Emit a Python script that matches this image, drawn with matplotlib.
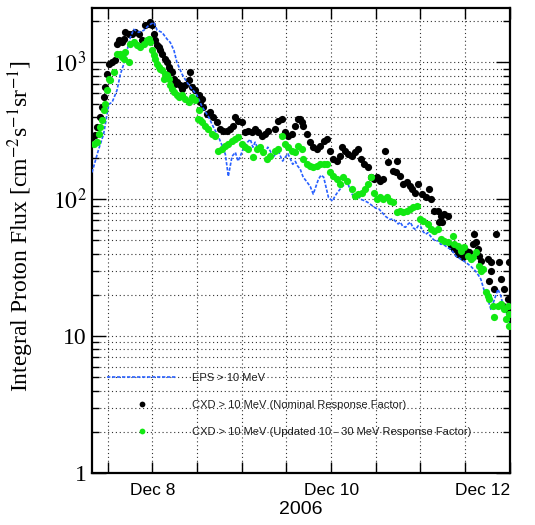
import numpy as np
import matplotlib.pyplot as plt
from matplotlib.ticker import FixedLocator, LogLocator, NullFormatter

plt.rcParams['mathtext.fontset'] = 'stix'

# hours since 2006-12-07 00:00 UT, flux in protons / (cm^2 s sr)
eps_hours = [7.8, 9.5, 10.9, 12.3, 13.2, 14.5, 15.4, 16.3, 17.2, 18.1, 19.0, 20.3,
             21.7, 23.0, 24.4, 25.3, 26.6, 28.0, 28.8, 29.8, 30.6, 32.0, 33.3, 34.7,
             36.0, 37.3, 39.0, 40.3, 41.7, 42.8, 43.6, 44.4, 44.9, 45.4, 46.3, 47.0,
             47.6, 48.3, 48.9, 49.6, 50.3, 51.0, 51.6, 52.3, 53.0, 53.6, 54.3, 55.0,
             55.7, 56.3, 57.0, 57.7, 58.4, 59.0, 59.7, 60.4, 61.1, 61.7, 62.4, 63.0,
             63.7, 64.5, 65.4, 66.4, 67.2, 68.6, 69.3, 70.0, 71.3, 72.4, 73.0, 73.7,
             75.0, 75.7, 76.4, 77.2, 78.1, 79.0, 79.9, 80.8, 81.8, 82.5, 83.2, 84.0,
             84.8, 85.7, 86.6, 87.2, 87.9, 88.6, 89.3, 90.0, 90.6, 91.3, 92.0, 92.7,
             93.3, 94.0, 94.7, 95.4, 96.0, 96.7, 97.4, 98.0, 98.7, 99.4, 100.1, 100.8,
             101.4, 102.1, 102.8, 103.5, 104.1, 104.8, 105.5, 106.2, 106.8, 107.5,
             108.1, 108.8, 109.5, 110.2, 110.8, 111.5, 112.2, 113.0, 114.1, 114.9,
             115.7, 116.8, 117.6, 118.4, 119.5, 120.0]
eps_flux = [157, 228, 298, 494, 511, 625, 817, 967, 1224, 1522, 1741, 1656,
            1713, 1862, 1959, 1713, 1656, 1472, 1400, 1224, 1000, 817, 714, 636,
            574, 477, 404, 341, 288, 244, 213, 147, 174, 206, 220, 190,
            206, 230, 244, 262, 274, 240, 261, 235, 244, 210, 220, 240,
            224, 200, 213, 230, 206, 190, 203, 215, 196, 180, 189, 175,
            166, 145, 135, 124, 109, 140, 150, 145, 103, 97, 105, 112,
            124, 128, 133, 115, 103, 108, 100, 98, 95, 92, 89, 86,
            85, 80, 75, 73, 71, 72, 69, 66, 68, 63, 62.5, 66,
            68, 62, 60, 64, 63.5, 58, 55.5, 57, 53.7, 51, 49.3, 50,
            46.9, 47, 45.4, 44, 43.2, 41, 38.4, 37.5, 36.5, 35.5,
            34.7, 33.5, 32.4, 31, 29.8, 28, 26.1, 22.0, 18.6, 15.7,
            18.0, 22.0, 19.6, 15.7, 14.0, 12.0]

nominal_hours = [7.8, 8.6, 9.1, 9.9, 10.4, 11.0, 11.3, 11.8, 12.4, 13.2, 14.0, 14.5,
                 15.1, 15.8, 16.4, 16.6, 17.7, 18.5, 19.3, 20.4, 21.2, 22.0, 23.1, 23.4,
                 23.9, 24.5, 24.7, 25.3, 25.8, 26.1, 26.6, 27.4, 28.0, 28.5, 28.8, 29.3,
                 29.8, 30.1, 30.6, 31.5, 32.0, 32.8, 33.9, 34.1, 34.7, 35.5, 36.6, 36.8,
                 37.4, 37.6, 38.7, 39.5, 40.3, 41.4, 42.2, 43.0, 44.1, 44.9, 45.7, 46.3,
                 47.1, 48.1, 48.9, 49.8, 50.8, 51.6, 52.4, 53.5, 54.3, 55.1, 57.0, 57.8,
                 58.9, 59.7, 60.5, 61.6, 62.4, 63.2, 63.7, 64.2, 64.5, 65.6, 66.4, 67.2,
                 68.3, 69.1, 70.0, 71.0, 71.8, 72.6, 73.7, 74.5, 75.0, 75.8, 76.6, 77.7,
                 78.5, 79.3, 79.9, 80.7, 81.8, 82.6, 83.4, 84.4, 85.2, 86.0, 86.6, 87.4,
                 88.5, 89.3, 89.8, 90.6, 91.4, 92.5, 93.3, 93.8, 94.6, 95.4, 96.5, 97.4,
                 98.2, 98.7, 99.5, 100.6, 100.9, 101.4, 101.9, 102.2, 103.3, 104.1, 104.9,
                 106.2, 107.3, 108.1, 108.9, 110.0, 110.3, 110.8, 111.4, 111.6, 112.2,
                 114.1, 114.3, 114.9, 114.9, 115.7, 116.2, 117.0, 117.6, 118.1, 118.4,
                 119.5, 119.8, 119.8]
nominal_flux = [284, 293, 336, 397, 470, 556, 658, 817, 967, 1000, 1035, 1352,
                1446, 1400, 1472, 1656, 1600, 1600, 1656, 1600, 1446, 1862, 1892, 1959,
                1862, 1600, 1446, 1330, 1286, 1224, 1143, 1052, 1000, 918, 874, 845,
                752, 691, 714, 680, 636, 680, 739, 845, 658, 625, 574, 511,
                537, 470, 417, 432, 397, 365, 324, 313, 313, 324, 341, 397,
                371, 365, 308, 313, 308, 324, 308, 288, 298, 313, 324, 371,
                384, 308, 288, 298, 341, 384, 384, 365, 341, 298, 261, 240,
                232, 244, 265, 274, 224, 196, 189, 206, 240, 224, 213, 206,
                220, 232, 196, 180, 171, 145, 140, 145, 135, 140, 224, 186,
                160, 157, 189, 147, 129, 133, 124, 118, 112, 129, 109, 103,
                118, 100, 81.7, 81.7, 67.9, 75.2, 67.9, 78, 75.2, 45.4, 43.2,
                39.6, 37.7, 41.7, 41.0, 46.9, 55.5, 48.5, 43.2, 38.4, 35.2,
                36.5, 25.2, 34.7, 29.8, 22.0, 55.5, 34.7, 26.1, 16.6, 22.0,
                18.6, 34.7, 15.0]

updated_hours = [8.3, 9.1, 9.6, 9.9, 10.4, 11.0, 11.3, 11.8, 12.4, 12.6, 13.7, 14.5,
                 15.3, 15.8, 16.4, 16.6, 17.7, 18.0, 19.1, 19.9, 20.7, 21.7, 22.6, 23.1,
                 23.4, 23.9, 24.5, 24.7, 25.3, 25.8, 26.1, 26.6, 27.1, 27.4, 28.0, 28.5,
                 28.8, 29.3, 29.8, 30.6, 31.2, 32.0, 32.8, 33.9, 34.7, 35.5, 36.3, 36.6,
                 36.8, 37.4, 38.2, 39.0, 40.1, 40.9, 41.7, 42.8, 43.6, 44.4, 45.4, 46.3,
                 47.1, 48.1, 48.9, 49.8, 51.1, 52.2, 52.9, 53.8, 54.9, 55.7, 57.0, 57.8,
                 58.9, 59.7, 60.5, 61.6, 62.4, 63.2, 64.2, 64.5, 65.6, 66.4, 67.2, 68.3,
                 69.1, 70.0, 71.0, 71.8, 72.6, 73.7, 74.5, 75.3, 76.4, 77.7, 78.5, 79.3,
                 80.4, 81.2, 82.0, 82.6, 83.4, 84.4, 85.2, 86.0, 87.1, 87.9, 88.7, 89.8,
                 90.6, 91.4, 92.5, 93.3, 94.1, 95.2, 96.0, 96.8, 97.9, 98.7, 99.5, 100.6,
                 101.4, 102.2, 103.3, 104.6, 104.9, 106.0, 106.8, 107.6, 108.7, 109.5,
                 110.0, 110.8, 111.6, 112.2, 112.7, 113.5, 114.1, 114.3, 115.4, 115.7,
                 116.8, 117.6, 118.4, 118.9, 119.5, 119.8, 119.9]
updated_flux = [252, 261, 298, 336, 378, 447, 494, 625, 752, 739, 845, 1143,
                1143, 1087, 1052, 1183, 1000, 1352, 1400, 1330, 1286, 1352, 1446, 1472,
                1400, 1224, 1125, 1052, 967, 918, 888, 874, 752, 817, 804, 752,
                680, 636, 604, 574, 556, 574, 537, 511, 556, 528, 384, 447,
                378, 365, 341, 324, 298, 288, 224, 232, 244, 252, 265, 274,
                284, 252, 240, 232, 203, 232, 240, 220, 196, 206, 224, 232,
                288, 252, 240, 224, 220, 244, 232, 196, 180, 174, 171, 174,
                180, 180, 180, 157, 147, 140, 129, 145, 135, 118, 105, 109,
                112, 118, 129, 145, 112, 100, 103, 100, 103, 97, 95, 80.4,
                81.7, 80.4, 81.7, 84.6, 87.5, 89, 71.5, 69.1, 65.7, 60.4, 58.4, 60.4,
                51.1, 49.3, 48.5, 53.7, 46.9, 45.4, 41.7, 44.7, 38.4, 36.5,
                37.7, 41.0, 32.4, 29.8, 30.8, 20.9, 19.6, 18.6, 16.6, 13.8,
                16.6, 17.1, 15.7, 13.3, 16.6, 14.5, 11.8]

start = np.datetime64('2006-12-07T00:00')


def to_time(hours):
    minutes = np.round(np.asarray(hours) * 60).astype(int)
    return start + minutes.astype('timedelta64[m]')


fig = plt.figure(figsize=(5.35, 5.25), dpi=100)
ax = fig.add_axes([0.172, 0.099, 0.781, 0.886])

ax.plot(to_time(nominal_hours), nominal_flux, 'o', color='black', ms=5.2,
        mec='none', zorder=2, label='CXD > 10 MeV (Nominal Response Factor)')
ax.plot(to_time(eps_hours), eps_flux, linestyle=(0, (2, 1)), color='#2860ff',
        lw=1.2, zorder=3, label='EPS > 10 MeV')
ax.plot(to_time(updated_hours), updated_flux, 'o', color='#12e812', ms=5.2,
        mec='none', zorder=4,
        label='CXD > 10 MeV (Updated 10 - 30 MeV Response Factor)')

ax.set_yscale('log')
ax.set_ylim(1, 2500)
ax.set_xlim(to_time(7.8), to_time(120))

# ticks every 12 h, labels on Dec 8, 10 and 12
tick_hours = np.arange(12, 121, 12)
tick_labels = ['Dec %d' % (h // 24 + 7) if (h - 24) % 48 == 0 else ''
               for h in tick_hours]
ax.set_xticks(to_time(tick_hours))
ax.set_xticklabels(tick_labels, fontfamily='Liberation Sans', fontsize=12.5)
# keep the last label inside the frame
ax.get_xticklabels()[-1].set_horizontalalignment('right')

ax.yaxis.set_major_locator(FixedLocator([1, 10, 100, 1000]))
ax.set_yticklabels(['1', '10', '$10^2$', '$10^3$'],
                   fontfamily='Liberation Serif', fontsize=17)
ax.yaxis.set_minor_locator(LogLocator(subs=np.arange(2, 10)))
ax.yaxis.set_minor_formatter(NullFormatter())

ax.tick_params(axis='x', which='major', direction='in', top=True, length=8,
               width=1, pad=7)
ax.tick_params(axis='y', which='major', direction='in', right=True, length=10,
               width=1, pad=4)
ax.tick_params(axis='y', which='minor', direction='in', right=True, length=5,
               width=1)

ax.grid(axis='x', which='major', linestyle=(0, (1, 2.5)), color='#333',
        linewidth=0.8)
ax.grid(axis='y', which='both', linestyle=(0, (1, 2.5)), color='#333',
        linewidth=0.8)
ax.set_axisbelow(True)

for spine in ax.spines.values():
    spine.set_linewidth(1.6)

ax.set_xlabel('2006', fontfamily='Liberation Sans', fontsize=14, labelpad=2)
ax.set_ylabel('Integral Proton Flux [cm$^{-2}$s$^{-1}$sr$^{-1}$]',
              fontfamily='Liberation Serif', fontsize=17)
ax.yaxis.set_label_coords(-0.135, 0.53)

handles, labels = ax.get_legend_handles_labels()
order = [1, 0, 2]
leg = ax.legend([handles[i] for i in order], [labels[i] for i in order],
                loc='upper left', bbox_to_anchor=(0.036, 0.216), frameon=False,
                prop={'family': 'Liberation Sans', 'size': 8},
                handlelength=6.3, handletextpad=1.35, labelspacing=1.55,
                borderpad=0, borderaxespad=0, markerscale=0.8)
for text in leg.get_texts():
    text.set_color('#222')

fig.savefig('out.png', dpi=100)
